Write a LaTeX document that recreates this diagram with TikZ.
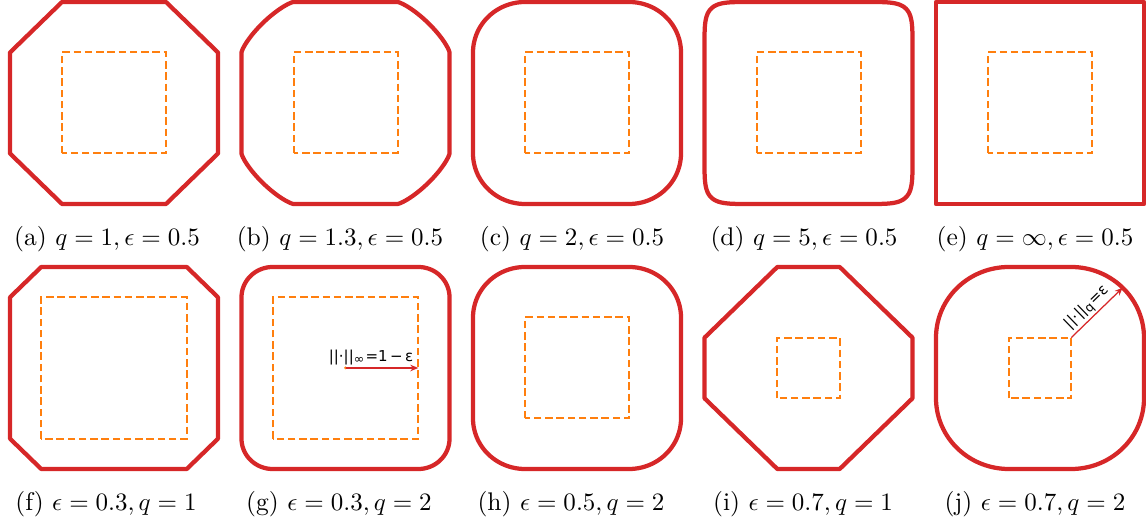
\documentclass[tikz,border=0pt]{standalone}
\usepackage{amsmath,amssymb}
\usepackage{fontspec}
\newfontfamily\dejavu{DejaVu Sans}
\usepackage{xcolor}
\usepackage{tikz}
\usetikzlibrary{arrows.meta, positioning}
\definecolor{tabred}{HTML}{D62728}
\definecolor{taborange}{HTML}{FF7F0E}
\tikzset{
  outer/.style  ={draw=tabred, line width=1.7pt, line join=round},
  inner/.style  ={draw=taborange, line width=0.8pt,
                  dash pattern=on 3.0pt off 1.5pt},
  subcap/.style ={font=\fontsize{10.2}{12}\selectfont, inner sep=0pt, anchor=base},
  note/.style   ={font=\dejavu\fontsize{6}{7}\selectfont, inner sep=0.6pt},
  ptr/.style    ={-{Stealth[length=3.2pt, width=2.6pt]}, draw=tabred, line width=0.5pt},
}
% unit ball of the l_q norm around the square of side 1-eps
% #1,#2 centre, #3 eps, #4 q
\newcommand\lqball[4]{%
  \begin{scope}[shift={(#1,#2)}, xscale=104, yscale=-101]
    \pgfmathsetmacro\lqa{1-#3}
    \draw[inner] (-\lqa,-\lqa) rectangle (\lqa,\lqa);
    \draw[outer]
      plot[domain=0:90, samples=60]
        ({\lqa+#3*pow(max(cos(\x),0.00001),2/#4)},{\lqa+#3*pow(max(sin(\x),0.00001),2/#4)})
      -- plot[domain=90:180, samples=60]
        ({-\lqa-#3*pow(max(-cos(\x),0.00001),2/#4)},{\lqa+#3*pow(max(sin(\x),0.00001),2/#4)})
      -- plot[domain=180:270, samples=60]
        ({-\lqa-#3*pow(max(-cos(\x),0.00001),2/#4)},{-\lqa-#3*pow(max(-sin(\x),0.00001),2/#4)})
      -- plot[domain=270:360, samples=60]
        ({\lqa+#3*pow(max(cos(\x),0.00001),2/#4)},{-\lqa-#3*pow(max(-sin(\x),0.00001),2/#4)})
      -- cycle;
  \end{scope}}

\begin{document}
\begin{tikzpicture}[x=0.4pt, y=-0.4pt]
  \useasboundingbox (0,0) rectangle (1146,524);

  % first row: eps fixed, q varies
  \lqball{114}{103}{0.5}{1}
  \lqball{345.5}{103}{0.5}{1.3}
  \lqball{577}{103}{0.5}{2}
  \lqball{808.5}{103}{0.5}{5}
  \begin{scope}[shift={(1040,103)}, xscale=104, yscale=-101]
    \draw[inner] (-0.5,-0.5) rectangle (0.5,0.5);
    \draw[outer] (-1,-1) rectangle (1,1);
  \end{scope}

  % second row: q fixed, eps varies
  \lqball{114}{368}{0.3}{1}
  \lqball{345.5}{368}{0.3}{2}
  \lqball{577}{368}{0.5}{2}
  \lqball{808.5}{368}{0.7}{1}
  \lqball{1040}{368}{0.7}{2}

  % the two pointers
  \coordinate (gc) at (345.5,368);
  \coordinate (ge) at (418.3,368);
  \fill[taborange] (gc) circle (0.6pt);
  \draw[ptr] (gc) -- (ge);
  \node[note, anchor=south east] (gnote) at ([xshift=-1.2pt, yshift=0.4pt]ge)
    {||·||\textsubscript{∞}=1\,−\,ε};

  \coordinate (jc) at (1071.2,337.7);
  \coordinate (jt) at (1122.7,287.7);
  \draw[ptr] (jc) -- node[note, sloped, above, pos=0.45] (jnote) {||·||\textsubscript{q}=ε} (jt);

  % captions
  \node[subcap] (capa) at (107,246) {(a) $q=1, \epsilon=0.5$};
  \node[subcap] (capb) at (340,246) {(b) $q=1.3, \epsilon=0.5$};
  \node[subcap] (capc) at (572,246) {(c) $q=2, \epsilon=0.5$};
  \node[subcap] (capd) at (804,246) {(d) $q=5, \epsilon=0.5$};
  \node[subcap] (cape) at (1035,246) {(e) $q=\infty, \epsilon=0.5$};

  \node[subcap] (capf) at (106,511) {(f) $\epsilon=0.3, q=1$};
  \node[subcap] (capg) at (339,511) {(g) $\epsilon=0.3, q=2$};
  \node[subcap] (caph) at (571,511) {(h) $\epsilon=0.5, q=2$};
  \node[subcap] (capi) at (803,511) {(i) $\epsilon=0.7, q=1$};
  \node[subcap] (capj) at (1035,511) {(j) $\epsilon=0.7, q=2$};

\end{tikzpicture}
\end{document}
